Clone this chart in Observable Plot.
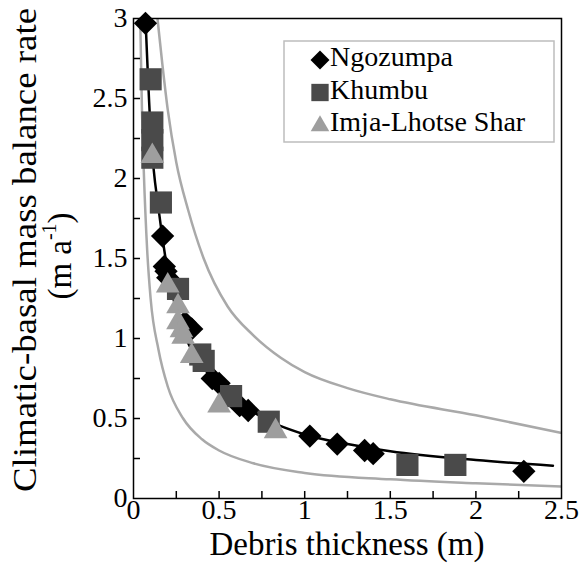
<!DOCTYPE html>
<html><head><meta charset="utf-8">
<script src="https://cdn.jsdelivr.net/npm/d3@7"></script>
<script src="https://cdn.jsdelivr.net/npm/@observablehq/plot@0.6"></script>
<style>
html,body{margin:0;padding:0;background:#fff;}
#chart{width:580px;height:573px;}
#chart svg text{font-family:"Liberation Serif","Times New Roman",serif;}
</style>
</head><body><div id="chart"></div>
<script>
// Ngozumpa (diamonds)
const ngoX = [0.07, 0.17, 0.18, 0.19, 0.20, 0.30, 0.34, 0.46, 0.50, 0.62, 0.67, 1.03, 1.19, 1.35, 1.40, 2.28];
const ngoY = [2.97, 1.64, 1.45, 1.42, 1.38, 1.10, 1.06, 0.75, 0.72, 0.58, 0.55, 0.39, 0.34, 0.30, 0.28, 0.17];
// Khumbu (squares)
const khuX = [0.10, 0.11, 0.11, 0.11, 0.16, 0.26, 0.39, 0.41, 0.57, 0.79, 1.60, 1.88];
const khuY = [2.62, 2.35, 2.24, 2.13, 1.85, 1.31, 0.90, 0.86, 0.64, 0.48, 0.21, 0.21];
// Imja-Lhotse Shar (triangles)
const imjaX = [0.11, 0.20, 0.26, 0.26, 0.28, 0.29, 0.34, 0.50, 0.83];
const imjaY = [2.14, 1.33, 1.20, 1.10, 1.05, 1.01, 0.89, 0.58, 0.42];
// fitted curve (black)
const fitX = [0.07, 0.10, 0.15, 0.20, 0.30, 0.40, 0.50, 0.70, 1.00, 1.25, 1.50, 2.00, 2.45];
const fitY = [3.00, 2.30, 1.78, 1.42, 1.02, 0.83, 0.71, 0.54, 0.40, 0.34, 0.295, 0.24, 0.205];
// upper envelope (gray)
const upX = [0.14, 0.17, 0.20, 0.25, 0.32, 0.41, 0.55, 0.70, 0.86, 1.00, 1.25, 1.50, 2.00, 2.50];
const upY = [3.00, 2.70, 2.43, 2.10, 1.80, 1.50, 1.20, 1.02, 0.88, 0.79, 0.69, 0.62, 0.52, 0.41];
// lower envelope (gray)
const loX = [0.04, 0.05, 0.06, 0.08, 0.10, 0.146, 0.20, 0.29, 0.40, 0.50, 0.70, 1.00, 1.50, 2.00, 2.50];
const loY = [2.95, 2.40, 2.05, 1.55, 1.25, 0.93, 0.70, 0.50, 0.37, 0.30, 0.22, 0.16, 0.12, 0.095, 0.075];
// ticks
const xMajor = [0, 0.5, 1, 1.5, 2, 2.5];
const xMinor = [0.25, 0.5, 0.75, 1, 1.25, 1.5, 1.75, 2, 2.25];
const yMajor = [0, 0.5, 1, 1.5, 2, 2.5, 3];
const yMinor = [0.25, 0.5, 0.75, 1, 1.25, 1.5, 1.75, 2, 2.25, 2.5, 2.75];
const seriesNames = ["Ngozumpa", "Khumbu", "Imja-Lhotse Shar"];
const colors = {diamond: "#000000", square: "#4a4a4a", triangle: "#9e9e9e", curve: "#a9a9a9"};

const toPts = (xs, ys) => xs.map((x, i) => ({x, y: ys[i]}));
const ngo = toPts(ngoX, ngoY), khu = toPts(khuX, khuY), imja = toPts(imjaX, imjaY);
const fit = toPts(fitX, fitY), up = toPts(upX, upY), lo = toPts(loX, loY);

const W = 580, H = 573, mL = 133, mR = 19, mT = 18, mB = 75;
const plotW = W - mL - mR, plotH = H - mT - mB, tickLen = 7;
const font = "Liberation Serif";
const chart = Plot.plot({
  width: W, height: H,
  marginLeft: mL, marginRight: mR, marginTop: mT, marginBottom: mB,
  style: {background: "white", color: "black", overflow: "visible"},
  x: {domain: [0, 2.5]},
  y: {domain: [0, 3]},
  marks: [
    Plot.line(up, {x: "x", y: "y", stroke: colors.curve, strokeWidth: 2.5, curve: "monotone-x", clip: true}),
    Plot.line(lo, {x: "x", y: "y", stroke: colors.curve, strokeWidth: 2.5, curve: "monotone-x", clip: true}),
    Plot.line(fit, {x: "x", y: "y", stroke: "black", strokeWidth: 2.5, curve: "monotone-x", clip: true}),
    Plot.dot(ngo, {x: "x", y: "y", symbol: "diamond2", fill: colors.diamond, stroke: "none", r: 10.5}),
    Plot.dot(khu, {x: "x", y: "y", symbol: "square", fill: colors.square, stroke: "none", r: 12.5}),
    Plot.dot(imja, {x: "x", y: "y", symbol: "triangle", fill: colors.triangle, stroke: "none", r: 8.8}),
    // inward minor/major ticks
    Plot.tickX(xMinor, {x: d => d, insetTop: plotH - tickLen, stroke: "black", strokeWidth: 1.5}),
    Plot.tickY(yMinor, {y: d => d, insetRight: plotW - tickLen, stroke: "black", strokeWidth: 1.5}),
    Plot.axisX({ticks: xMajor, tickSize: 0, tickPadding: 1, label: null, tickFormat: d => String(d),
      fontFamily: font, fontSize: 28, fontVariant: "normal"}),
    Plot.axisY({ticks: yMajor, tickSize: 0, tickPadding: 6, label: null, tickFormat: d => String(d),
      fontFamily: font, fontSize: 28, fontVariant: "normal"}),
    Plot.frame({stroke: "black", strokeWidth: 1.5})
  ]
});
document.getElementById("chart").appendChild(chart);

const svg = d3.select(chart);
// axis titles
svg.append("text").attr("x", 347).attr("y", 547)
  .attr("text-anchor", "middle").attr("dominant-baseline", "middle")
  .attr("font-family", font).attr("font-size", 33).text("Debris thickness (m)");
svg.append("text").attr("transform", "translate(28,250) rotate(-90)")
  .attr("text-anchor", "middle").attr("dominant-baseline", "middle")
  .attr("font-family", font).attr("font-size", 34)
  .attr("textLength", 484).attr("lengthAdjust", "spacingAndGlyphs")
  .text("Climatic-basal mass balance rate");
const t2 = svg.append("text").attr("transform", "translate(63,256) rotate(-90)")
  .attr("text-anchor", "middle").attr("dominant-baseline", "middle")
  .attr("font-family", font).attr("font-size", 33);
t2.append("tspan").text("(m a");
t2.append("tspan").attr("dy", -12).attr("font-size", 20).text("-1");
t2.append("tspan").attr("dy", 12).text(")");

// legend
const lg = svg.append("g");
lg.append("rect").attr("x", 284).attr("y", 41).attr("width", 270).attr("height", 101)
  .attr("fill", "white").attr("stroke", "#bdbdbd").attr("stroke-width", 1.5);
const legSyms = [
  {s: d3.symbolDiamond2, size: 230, c: colors.diamond},
  {s: d3.symbolSquare, size: 300, c: colors.square},
  {s: d3.symbolTriangle, size: 150, c: colors.triangle}
];
seriesNames.forEach((name, i) => {
  const cy = 60 + i * 32.5;
  lg.append("path").attr("d", d3.symbol(legSyms[i].s, legSyms[i].size)())
    .attr("transform", `translate(320,${cy + (i === 2 ? 1 : 0)})`).attr("fill", legSyms[i].c);
  lg.append("text").attr("x", 330).attr("y", cy).attr("dominant-baseline", "middle")
    .attr("text-anchor", "start")
    .attr("font-family", font).attr("font-size", 28).text(name);
});
</script>
</body></html>
